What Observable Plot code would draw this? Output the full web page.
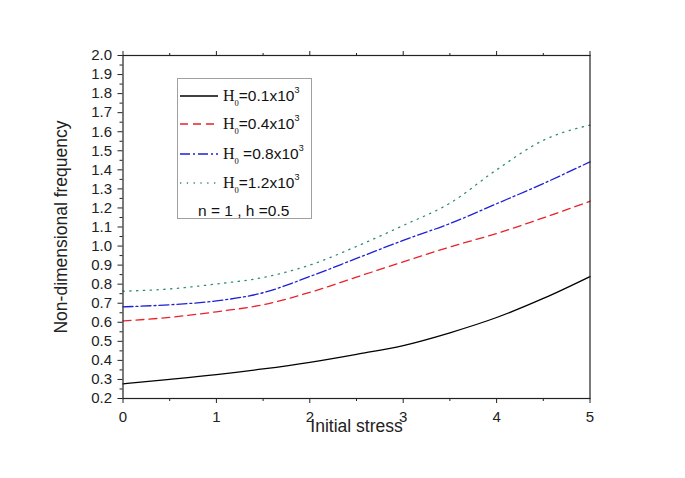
<!DOCTYPE html>
<html>
<head>
<meta charset="utf-8">
<script src="https://cdn.jsdelivr.net/npm/d3@7"></script>
<script src="https://cdn.jsdelivr.net/npm/@observablehq/plot@0.6"></script>
<style>
  html, body { margin: 0; padding: 0; background: #fff; }
  #wrap { position: relative; width: 685px; height: 478px; font-family: "Liberation Sans", Arial, sans-serif; }
  #legend { position: absolute; left: 177px; top: 78px; width: 135px; height: 141px; border: 1px solid #a0a0a0; background: #fff; box-sizing: border-box; }
  .row { position: absolute; left: 2px; height: 20px; display: flex; align-items: center; font-size: 15.5px; color: #111; white-space: nowrap; }
  .row svg { margin-right: 5px; }
  .H { font-family: "Liberation Serif", "Times New Roman", serif; font-size: 16px; }
  sub { font-size: 8.5px; font-family: "Liberation Serif", serif; vertical-align: -5px; }
  sup { font-size: 9px; vertical-align: 8px; }
</style>
</head>
<body>
<div id="wrap"></div>
<script>
// ---- data ----
const stress = [0, 0.5, 1, 1.5, 2, 2.5, 3, 3.5, 4, 4.5, 5];
const freqH01 = [0.277, 0.300, 0.325, 0.355, 0.390, 0.432, 0.478, 0.545, 0.625, 0.725, 0.840];
const freqH04 = [0.607, 0.626, 0.655, 0.692, 0.757, 0.837, 0.917, 0.995, 1.066, 1.148, 1.235];
const freqH08 = [0.681, 0.692, 0.712, 0.755, 0.840, 0.935, 1.030, 1.118, 1.222, 1.328, 1.442];
const freqH12 = [0.763, 0.775, 0.801, 0.835, 0.900, 0.998, 1.108, 1.225, 1.400, 1.555, 1.635];
const seriesColors = ["#000000", "#e8222a", "#1f1fd8", "#2e8b78"];
const seriesDash = [null, "8,5", "10,3,2,3", "1.3,5.5"];
const xMajor = [0, 1, 2, 3, 4, 5];
const xMinor = [0.5, 1.5, 2.5, 3.5, 4.5];
const yMajor = d3.range(2, 21).map(v => v / 10);
const yMinor = d3.range(2, 20).map(v => v / 10 + 0.05);

const allSeries = [freqH01, freqH04, freqH08, freqH12];
const rows = allSeries.flatMap((vals, i) => stress.map((s, j) => ({s, f: vals[j], k: i})));

const lineMarks = allSeries.map((vals, i) => Plot.line(rows.filter(r => r.k === i), {
  x: "s", y: "f", curve: "monotone-x",
  stroke: seriesColors[i], strokeWidth: 1.3,
  strokeDasharray: seriesDash[i] || undefined
}));

const chart = Plot.plot({
  width: 685,
  height: 478,
  marginLeft: 122.5,
  marginRight: 95.5,
  marginTop: 55,
  marginBottom: 80,
  style: {fontFamily: "'Liberation Sans', Arial, sans-serif", fontSize: "15px", color: "#222", background: "#fff"},
  x: {domain: [0, 5]},
  y: {domain: [0.2, 2.0]},
  marks: [
    ...lineMarks,
    Plot.axisX({ticks: xMajor, tickSize: 5, tickPadding: 8, tickFormat: d => String(d), label: null, fontSize: 15}),
    Plot.axisX({ticks: xMinor, tickSize: 3, tickFormat: () => "", label: null}),
    Plot.axisX({anchor: "top", ticks: xMajor, tickSize: 5, tickFormat: () => "", label: null}),
    Plot.axisX({anchor: "top", ticks: xMinor, tickSize: 3, tickFormat: () => "", label: null}),
    Plot.axisY({ticks: yMajor, tickSize: 5, tickPadding: 6, tickFormat: d3.format(".1f"), label: null, fontSize: 15}),
    Plot.axisY({ticks: yMinor, tickSize: 3, tickFormat: () => "", label: null}),
    Plot.frame({stroke: "#222", strokeWidth: 1.2}),
    Plot.text(["Initial stress"], {frameAnchor: "bottom", dy: 33, fontSize: 17.5, fill: "#222", textAnchor: "middle"}),
    Plot.text(["Non-dimensional frequency"], {frameAnchor: "left", dx: -62, rotate: -90, fontSize: 17.5, fill: "#222", textAnchor: "middle"})
  ]
});
const wrap = document.getElementById("wrap");
wrap.appendChild(chart);

// ---- legend (overlay) ----
const legendLabels = [
  '<span class="H">H<sub>0</sub></span>=0.1x10<sup>3</sup>',
  '<span class="H">H<sub>0</sub></span>=0.4x10<sup>3</sup>',
  '<span class="H">H<sub>0</sub></span> =0.8x10<sup>3</sup>',
  '<span class="H">H<sub>0</sub></span>=1.2x10<sup>3</sup>'
];
const leg = document.createElement("div");
leg.id = "legend";
const rowTops = [7, 35, 65, 94];
legendLabels.forEach((lab, i) => {
  const r = document.createElement("div");
  r.className = "row";
  r.style.top = rowTops[i] + "px";
  const dash = seriesDash[i] ? `stroke-dasharray="${seriesDash[i]}"` : "";
  r.innerHTML = `<svg width="38" height="10"><line x1="0" y1="5" x2="38" y2="5" stroke="${seriesColors[i]}" stroke-width="1.3" ${dash}/></svg><span>${lab}</span>`;
  leg.appendChild(r);
});
const note = document.createElement("div");
note.className = "row";
note.style.top = "122px";
note.style.left = "20px";
note.textContent = "n = 1 , h =0.5";
leg.appendChild(note);
wrap.appendChild(leg);
</script>
</body>
</html>
